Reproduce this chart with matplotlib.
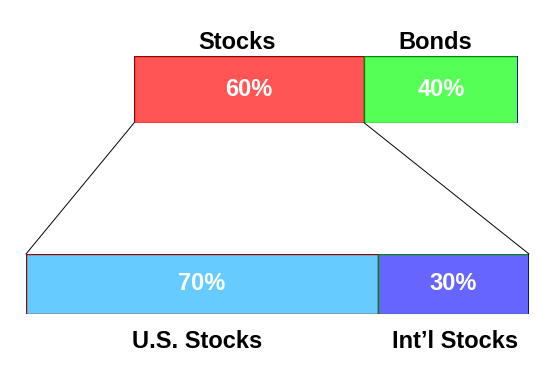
import matplotlib
matplotlib.use("Agg")
import matplotlib.pyplot as plt
from matplotlib.patches import ConnectionPatch

top_labels = ["Stocks", "Bonds"]
top_values = [60, 40]
bottom_labels = ["U.S. Stocks", "Int\u2019l Stocks"]
bottom_values = [70, 30]

top_colors = ["#FF5555", "#55FF55"]
bottom_colors = ["#66CCFF", "#6666FF"]
edge_colors = ["#990000", "#008800"]

plt.rcParams['font.family'] = ['Liberation Sans', 'DejaVu Sans']

W, H = 556, 371
fig = plt.figure(figsize=(W / 100, H / 100), dpi=100)

ax_top = fig.add_axes([134 / W, 1 - 123 / H, 384 / W, 67 / H])
ax_bot = fig.add_axes([26 / W, 1 - 314 / H, 503 / W, 60 / H])

FS = 17


def draw(ax, labels, values, colors, baseline_px, bar_px, label_shift_px):
    left = 0
    for lab, v, c, ec, dx in zip(labels, values, colors, edge_colors, label_shift_px):
        ax.barh(0, v, left=left, height=1, color=c, edgecolor=ec, linewidth=1.0)
        ax.text(left + v / 2, 0, f"{v}%", ha="center", va="center",
                color="white", fontsize=FS, fontweight="bold")
        ax.annotate(lab, xy=(left + v / 2, baseline_px / bar_px),
                    xycoords=ax.get_xaxis_transform(),
                    xytext=(dx * 0.72, 0), textcoords="offset points",
                    ha="center", va="baseline",
                    color="black", fontsize=FS, fontweight="bold")
        left += v
    ax.plot([left, left], [-0.5, 0.5], color="#000088", lw=1.2, solid_capstyle="butt")
    ax.set_xlim(0, sum(values))
    ax.set_ylim(-0.5, 0.5)
    ax.axis("off")


draw(ax_top, top_labels, top_values, top_colors, 67 + 7, 67, [-12, -6])
draw(ax_bot, bottom_labels, bottom_values, bottom_colors, -34, 60, [-5, 2])

# connector lines
con1 = ConnectionPatch(xyA=(0, -0.5), coordsA=ax_top.transData,
                       xyB=(0, 0.5), coordsB=ax_bot.transData,
                       color="black", lw=0.7)
con2 = ConnectionPatch(xyA=(top_values[0], -0.5), coordsA=ax_top.transData,
                       xyB=(sum(bottom_values), 0.5), coordsB=ax_bot.transData,
                       color="black", lw=0.7)
fig.add_artist(con1)
fig.add_artist(con2)

fig.savefig("out.png", dpi=100)
